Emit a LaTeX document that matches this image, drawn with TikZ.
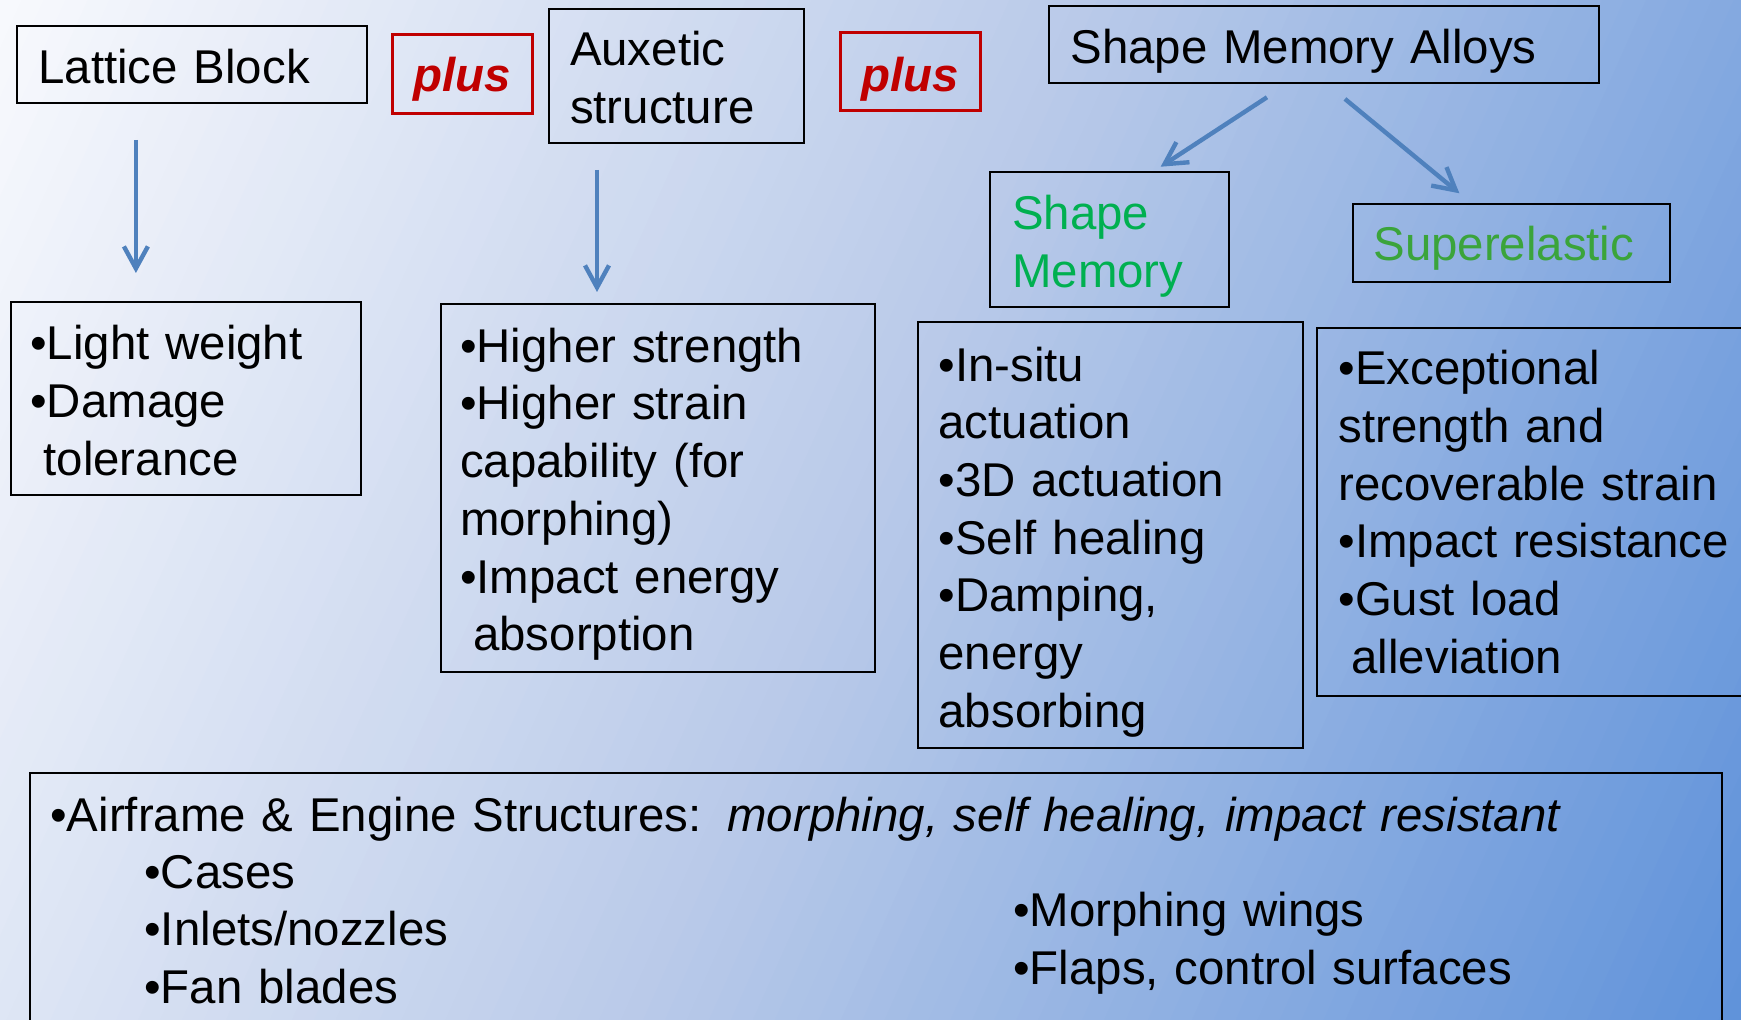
\documentclass[tikz,border=0pt]{standalone}
\usepackage{fontspec}
\setmainfont{Liberation Sans}
\usetikzlibrary{arrows.meta,calc}

\definecolor{bgA}{HTML}{F8F9FD}
\definecolor{bgM}{HTML}{B9CAE9}
\definecolor{bgB}{HTML}{5F92DA}
\definecolor{arrowblue}{HTML}{4F81BD}
\definecolor{plusred}{HTML}{C00000}
\definecolor{smgreen}{HTML}{00B050}
\definecolor{segreen}{HTML}{3BA43B}

\newcommand\diagfont{\fontsize{23.7}{28.85}\selectfont}

\tikzset{
  box/.style 2 args={draw=black, line width=1pt, inner sep=0pt, outer sep=0pt,
    anchor=north west, minimum width=#1*0.5pt, minimum height=#2*0.5pt},
  plusbox/.style 2 args={draw=plusred, line width=1.5pt, inner sep=0pt, outer sep=0pt,
    anchor=north west, minimum width=#1*0.5pt, minimum height=#2*0.5pt},
  plustext/.style={inner sep=0pt, anchor=base, text=plusred, font=\diagfont\bfseries\itshape},
  txt/.style={inner sep=0pt, anchor=base west, align=left, text width=#1, font=\diagfont, yshift=-0.75pt},
  link/.style={draw=arrowblue, line width=2.2pt, -{Straight Barb[length=11pt,width=12pt]}},
}

\begin{document}
\begin{tikzpicture}[x=0.5pt,y=-0.5pt]
\useasboundingbox (0,0) rectangle (1741,1020);

% diagonal background gradient, built from thin strips
\begin{scope}
  \clip (0,0) rectangle (1741,1020);
  \foreach \i in {0,...,49}{
    \pgfmathsetmacro\sa{20.052*\i}
    \pgfmathsetmacro\pc{2*(\i+0.5)}
    \fill[bgM!\pc!bgA]
      ({0.91355*\sa+305.06},{0.40674*\sa-685.16}) --
      ({0.91355*(\sa+21)+305.06},{0.40674*(\sa+21)-685.16}) --
      ({0.91355*(\sa+21)-406.74},{0.40674*(\sa+21)+913.55}) --
      ({0.91355*\sa-406.74},{0.40674*\sa+913.55}) -- cycle;
  }
  \foreach \i in {50,...,99}{
    \pgfmathsetmacro\sa{20.052*\i}
    \pgfmathsetmacro\pc{2*(\i-50+0.5)}
    \fill[bgB!\pc!bgM]
      ({0.91355*\sa+305.06},{0.40674*\sa-685.16}) --
      ({0.91355*(\sa+21)+305.06},{0.40674*(\sa+21)-685.16}) --
      ({0.91355*(\sa+21)-406.74},{0.40674*(\sa+21)+913.55}) --
      ({0.91355*\sa-406.74},{0.40674*\sa+913.55}) -- cycle;
  }
\end{scope}

% top row
\node[box={349.8}{77.8}] (lattice) at (16.7,25.7) {};
\node[txt=300pt] (tlattice) at (38,82) {Lattice Block};

\node[plusbox={140}{79}] (plusA) at (392,35) {};
\node[plustext] (tplusA) at (462,91.7) {plus};

\node[box={255.5}{134.3}] (aux) at (548.5,8.9) {};
\node[txt=200pt] (taux) at (569.6,64.5) {Auxetic\\structure};

\node[plusbox={139.9}{78.8}] (plusB) at (840.5,32.2) {};
\node[plustext] (tplusB) at (910.4,91.7) {plus};

\node[box={550}{77.3}] (sma) at (1049,6) {};
\node[txt=300pt] (tsma) at (1070,61.7) {Shape Memory Alloys};

% second row: SMA branches
\node[box={238.6}{135}] (sm) at (990.4,172.3) {};
\node[txt=150pt, text=smgreen] (tsm) at (1011.8,228.3) {Shape\\Memory};

\node[box={316.7}{78}] (se) at (1353,203.7) {};
\node[txt=200pt, text=segreen] (tse) at (1373,259.3) {Superelastic};

% property boxes
\node[box={349.7}{193.2}] (lw) at (11.1,302) {};
\node[txt=200pt] (tlw) at (30,358.2) {\textbullet Light weight\\\textbullet Damage\\\hspace*{0.278em}tolerance};

\node[box={434.1}{367.5}] (hs) at (440.8,304.2) {};
\node[txt=230pt] (ths) at (459.7,360.8) {\textbullet Higher strength\\\textbullet Higher strain\\capability (for\\morphing)\\\textbullet Impact energy\\\hspace*{0.278em}absorption};

\node[box={384.8}{426.3}] (is) at (918.2,322) {};
\node[txt=200pt] (tis) at (938.2,379.7) {\textbullet In-situ\\actuation\\\textbullet 3D actuation\\\textbullet Self healing\\\textbullet Damping,\\energy\\absorbing};

\node[box={440}{367.7}] (ex) at (1316.7,328.3) {};
\node[txt=220pt] (tex) at (1338,383.3) {\textbullet Exceptional\\strength and\\recoverable strain\\\textbullet Impact resistance\\\textbullet Gust load\\\hspace*{0.278em}alleviation};

% applications box
\node[box={1692}{270}] (apps) at (29.5,773.5) {};
\node[txt=800pt] (tapps) at (50,830) {\textbullet Airframe \& Engine Structures:\hspace{12.8pt}\textit{morphing, self healing, impact resistant}};
\node[txt=300pt] (tengine) at (144,886.7) {\textbullet Cases\\\textbullet Inlets/nozzles\\\textbullet Fan blades};
\node[txt=300pt] (twing) at (1013,925) {\textbullet Morphing wings\\\textbullet Flaps, control surfaces};

% connectors
\coordinate (xA) at (135.9,0);
\coordinate (xB) at (597,0);
\coordinate (xC1) at (1288.4,0);
\coordinate (xC2) at (1152.1,0);
\coordinate (xD1) at (1325.95,0);
\coordinate (xD2) at (1472.0,0);
\draw[link, shorten <=18.25pt, shorten >=14.5pt] (lattice.south -| xA) -- (lw.north -| xA);
\draw[link, shorten <=13.4pt, shorten >=6.1pt] (aux.south -| xB) -- (hs.north -| xB);
\draw[link, shorten <=12.8pt, shorten >=5.1pt] (sma.south -| xC1) -- (sm.north -| xC2);
\draw[link, shorten <=12.3pt, shorten >=8.2pt] (sma.south -| xD1) -- (se.north -| xD2);
\end{tikzpicture}
\end{document}
